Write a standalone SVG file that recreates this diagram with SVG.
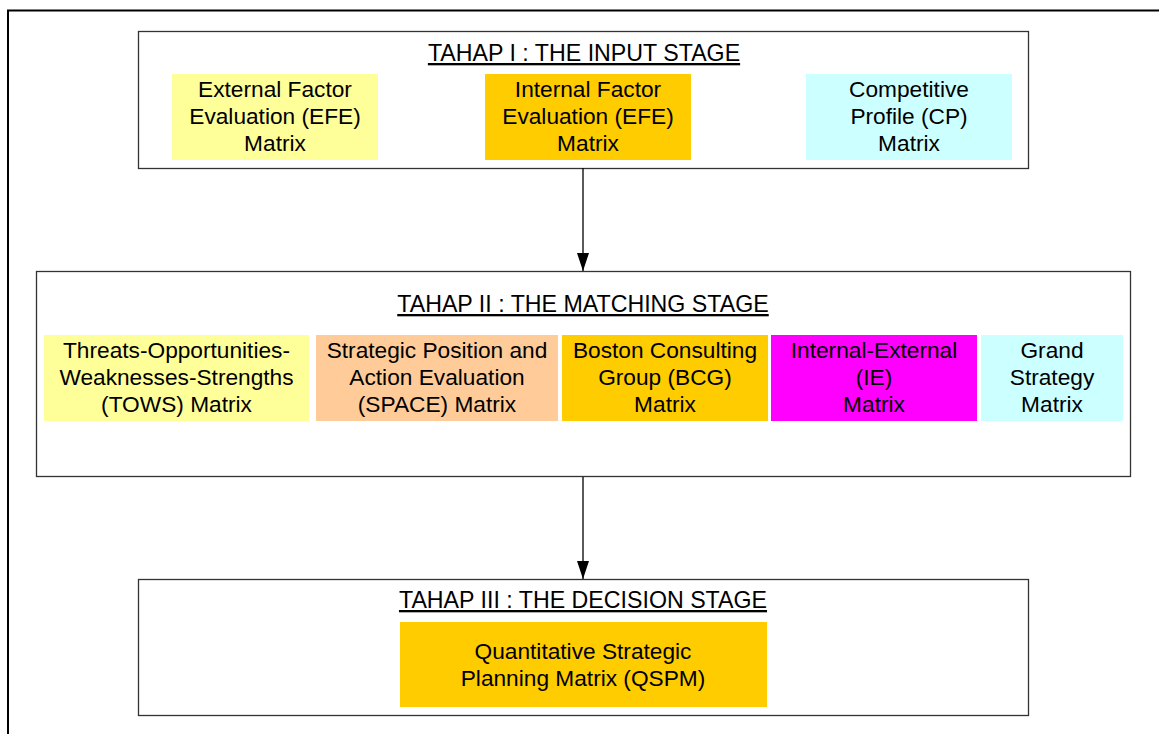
<svg xmlns="http://www.w3.org/2000/svg" width="1159" height="734" viewBox="0 0 1159 734">
<defs>
<style>
.t{font-family:"Liberation Sans",Arial,sans-serif;font-size:22.7px;fill:#000;text-anchor:middle}
.h{text-decoration:underline;font-size:23.2px}
.stage{fill:#fff;stroke:#333;stroke-width:1.3}
.conn{stroke:#000;stroke-width:1.3;fill:none}
</style>
<marker id="arr" markerUnits="userSpaceOnUse" markerWidth="18" markerHeight="12" refX="18" refY="6" orient="auto" viewBox="0 0 18 12">
<path d="M0,0 L18,6 L0,12 Z" fill="#000"/>
</marker>
</defs>
<rect x="0" y="0" width="1159" height="734" fill="#fff"/>
<rect x="8" y="10.5" width="1165" height="740" fill="none" stroke="#000" stroke-width="2"/>

<g id="stage1">
<rect class="stage" x="138.5" y="31.5" width="890" height="137"/>
<text class="t h" x="584" y="61">TAHAP I : THE INPUT STAGE</text>
</g>
<g id="efe">
<rect x="172" y="74" width="206" height="86" fill="#FFFF99"/>
<text class="t" x="275" y="97">External Factor</text>
<text class="t" x="275" y="124">Evaluation (EFE)</text>
<text class="t" x="275" y="151">Matrix</text>
</g>
<g id="ife">
<rect x="485" y="74" width="206" height="86" fill="#FFCC00"/>
<text class="t" x="588" y="97">Internal Factor</text>
<text class="t" x="588" y="124">Evaluation (EFE)</text>
<text class="t" x="588" y="151">Matrix</text>
</g>
<g id="cp">
<rect x="806" y="74" width="206" height="86" fill="#CCFFFF"/>
<text class="t" x="909" y="97">Competitive</text>
<text class="t" x="909" y="124">Profile (CP)</text>
<text class="t" x="909" y="151">Matrix</text>
</g>

<g id="stage2">
<rect class="stage" x="36.5" y="271.5" width="1094" height="205"/>
<text class="t h" x="583" y="312">TAHAP II : THE MATCHING STAGE</text>
</g>
<g id="tows">
<rect x="44" y="335" width="265" height="86" fill="#FFFF99"/>
<text class="t" x="176.5" y="358">Threats-Opportunities-</text>
<text class="t" x="176.5" y="385">Weaknesses-Strengths</text>
<text class="t" x="176.5" y="412">(TOWS) Matrix</text>
</g>
<g id="space">
<rect x="316" y="335" width="242" height="86" fill="#FFCC99"/>
<text class="t" x="437" y="358">Strategic Position and</text>
<text class="t" x="437" y="385">Action Evaluation</text>
<text class="t" x="437" y="412">(SPACE) Matrix</text>
</g>
<g id="bcg">
<rect x="562" y="335" width="206" height="86" fill="#FFCC00"/>
<text class="t" x="665" y="358">Boston Consulting</text>
<text class="t" x="665" y="385">Group (BCG)</text>
<text class="t" x="665" y="412">Matrix</text>
</g>
<g id="ie">
<rect x="771" y="335" width="206" height="86" fill="#FF00FF"/>
<text class="t" x="874" y="358">Internal-External</text>
<text class="t" x="874" y="385">(IE)</text>
<text class="t" x="874" y="412">Matrix</text>
</g>
<g id="grand">
<rect x="981" y="335" width="142" height="86" fill="#CCFFFF"/>
<text class="t" x="1052" y="358">Grand</text>
<text class="t" x="1052" y="385">Strategy</text>
<text class="t" x="1052" y="412">Matrix</text>
</g>

<g id="stage3">
<rect class="stage" x="138.5" y="579.5" width="890" height="136"/>
<text class="t h" x="583" y="608">TAHAP III : THE DECISION STAGE</text>
</g>
<g id="qspm">
<rect x="400" y="622" width="367" height="85" fill="#FFCC00"/>
<text class="t" x="583" y="659">Quantitative Strategic</text>
<text class="t" x="583" y="686">Planning Matrix (QSPM)</text>
</g>

<g id="connectors">
<line class="conn" x1="583" y1="168" x2="583" y2="271" marker-end="url(#arr)"/>
<line class="conn" x1="583" y1="477" x2="583" y2="579" marker-end="url(#arr)"/>
</g>
</svg>
